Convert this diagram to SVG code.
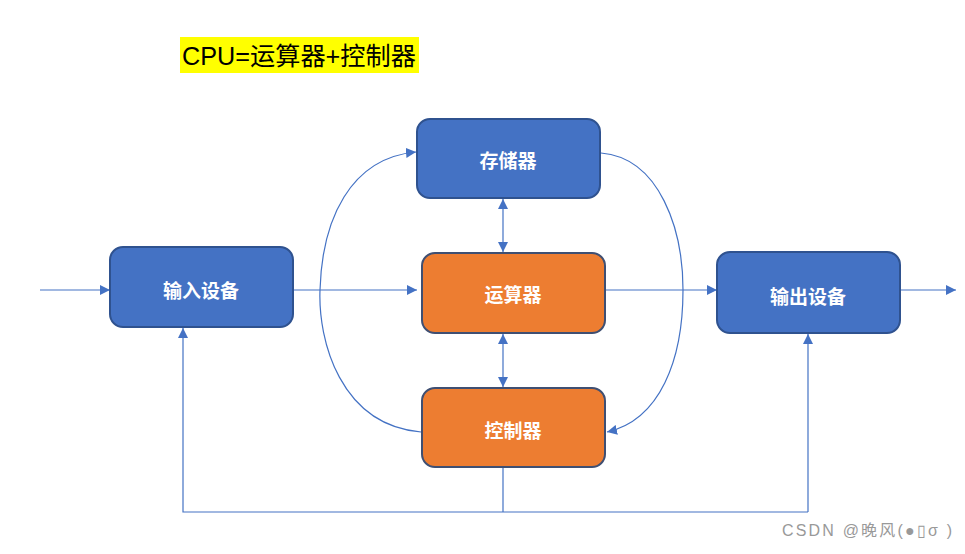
<svg xmlns="http://www.w3.org/2000/svg" width="965" height="554" viewBox="0 0 965 554">
<style>
.blue{fill:#4472C4;stroke:#2F528F;stroke-width:2}
.orange{fill:#ED7D31;stroke:#3F4F72;stroke-width:2}
.lbl{font-family:"Noto Sans CJK SC",sans-serif;font-size:19px;font-weight:bold;fill:#fff;text-anchor:middle;dominant-baseline:central}
.ln{fill:none;stroke:#4472C4;stroke-width:1.2}
</style>
<defs>
<marker id="ah" viewBox="0 0 10 10" refX="10" refY="5" markerWidth="10" markerHeight="10" markerUnits="userSpaceOnUse" orient="auto-start-reverse">
<path d="M0,0 L10,5 L0,10 z" fill="#4472C4"/>
</marker>
</defs>
<rect width="965" height="554" fill="#fff"/>
<g id="title">
<rect x="180" y="37" width="239" height="36" fill="#FFFF00"/>
<text x="182" y="56" font-family="Liberation Sans,'Noto Sans CJK SC',sans-serif" font-size="25" fill="#000" dominant-baseline="central" textLength="234" lengthAdjust="spacingAndGlyphs">CPU=运算器+控制器</text>
</g>
<g id="connectors">
<line class="ln" x1="40" y1="290" x2="110" y2="290" marker-end="url(#ah)"/>
<line class="ln" x1="293" y1="290" x2="417" y2="290" marker-end="url(#ah)"/>
<line class="ln" x1="605" y1="290" x2="717" y2="290" marker-end="url(#ah)"/>
<line class="ln" x1="900" y1="290" x2="956" y2="290" marker-end="url(#ah)"/>
<line class="ln" x1="503" y1="199" x2="503" y2="252" marker-start="url(#ah)" marker-end="url(#ah)"/>
<line class="ln" x1="503" y1="334" x2="503" y2="387" marker-start="url(#ah)" marker-end="url(#ah)"/>
<polyline class="ln" points="503,468 503,512"/>
<polyline class="ln" points="808,512 183,512 183,328" marker-end="url(#ah)"/>
<line class="ln" x1="808" y1="512" x2="808" y2="334" marker-end="url(#ah)"/>
<path class="ln" d="M421,432 C340,425 318,340 320,290 C322,220 350,158 416,152" marker-end="url(#ah)"/>
<path class="ln" d="M601,153 C660,158 683,230 683,290 C683,360 660,420 607,432" marker-end="url(#ah)"/>
</g>
<g id="storage">
<rect class="blue" x="417" y="119" width="183" height="79" rx="13"/>
<text class="lbl" x="508" y="159">存储器</text>
</g>
<g id="alu">
<rect class="orange" x="422" y="253" width="183" height="80" rx="13"/>
<text class="lbl" x="513" y="293">运算器</text>
</g>
<g id="control">
<rect class="orange" x="422" y="388" width="183" height="79" rx="13"/>
<text class="lbl" x="513" y="429">控制器</text>
</g>
<g id="input">
<rect class="blue" x="110" y="247" width="183" height="80" rx="13"/>
<text class="lbl" x="201" y="289">输入设备</text>
</g>
<g id="output">
<rect class="blue" x="717" y="252" width="183" height="81" rx="13"/>
<text class="lbl" x="808" y="295">输出设备</text>
</g>
<text x="782" y="536" font-family="Liberation Sans,'Noto Sans CJK SC',sans-serif" font-size="16" fill="#999" textLength="170" lengthAdjust="spacing">CSDN @晚风(●▯σ )</text>
</svg>
